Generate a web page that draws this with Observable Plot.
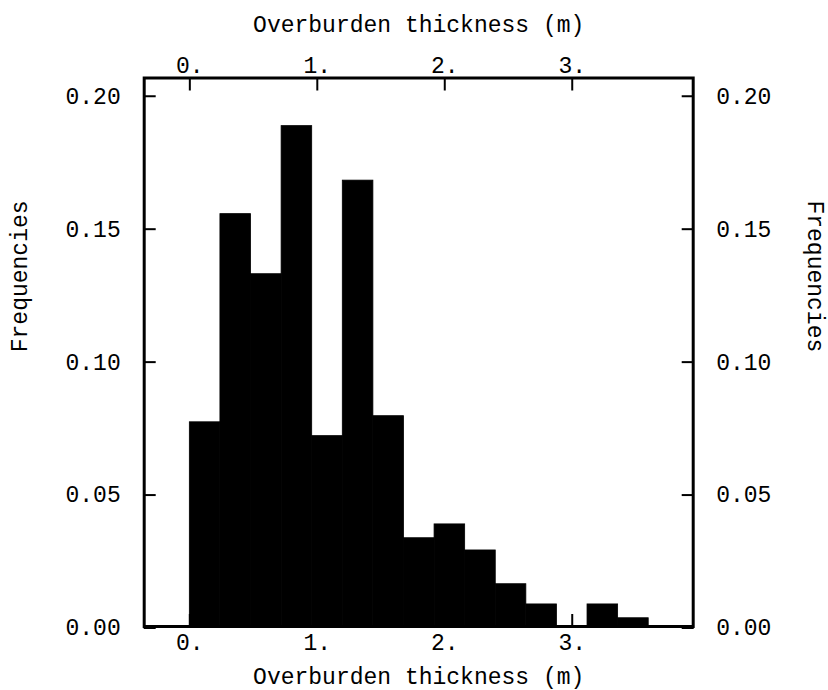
<!DOCTYPE html>
<html><head><meta charset="utf-8">
<script src="https://cdn.jsdelivr.net/npm/d3@7"></script>
<script src="https://cdn.jsdelivr.net/npm/@observablehq/plot@0.6"></script>
<style>body{margin:0;background:#fff}</style>
</head><body><div id="chart"></div>
<script>
const binEdges = [0, 0.24, 0.48, 0.72, 0.96, 1.2, 1.44, 1.68, 1.92, 2.16, 2.4, 2.64, 2.88, 3.12, 3.36, 3.6];
const frequencies = [0.0768, 0.1551, 0.1325, 0.1882, 0.0716, 0.1677, 0.0791, 0.0332, 0.0384, 0.0286, 0.0159, 0.0083, 0, 0.0083, 0.0031];
const xTicks = [0, 1, 2, 3];
const yTicks = [0, 0.05, 0.10, 0.15, 0.20];
const xTitle = "Overburden thickness (m)";
const yTitle = "Frequencies";

const bins = frequencies.map((f, i) => ({x1: binEdges[i], x2: binEdges[i + 1], f}));
const font = "'Liberation Mono', 'Courier New', monospace";
const W = 828, H = 690, mL = 143.7, mR = 828 - 692.7, mT = 77.5, mB = 64;
const TS = -12; // inward ticks

const chart = Plot.plot({
  width: W, height: H,
  marginLeft: mL, marginRight: mR, marginTop: mT, marginBottom: mB,
  x: {domain: [-0.358, 3.949]},
  y: {domain: [0, 0.2063]},
  style: {fontFamily: font, fontSize: "23px", color: "black", background: "white"},
  marks: [
    Plot.rectY(bins, {x1: "x1", x2: "x2", y: "f", fill: "black", stroke: "black", strokeWidth: 0.8}),
    Plot.axisX(xTicks, {anchor: "top", tickSize: TS, tickPadding: 5.5 - TS, strokeWidth: 2, tickFormat: d => d + ".", label: null, fontSize: 23}),
    Plot.axisX(xTicks, {anchor: "bottom", tickSize: TS, tickPadding: 6.7 - TS, strokeWidth: 2, tickFormat: d => d + ".", label: null, fontSize: 23}),
    Plot.axisY(yTicks, {anchor: "left", tickSize: TS, tickPadding: 23.5 - TS, strokeWidth: 2, tickFormat: d3.format(".2f"), label: null, fontSize: 23, dy: 1.5}),
    Plot.axisY(yTicks, {anchor: "right", tickSize: TS, tickPadding: 23 - TS, strokeWidth: 2, tickFormat: d3.format(".2f"), label: null, fontSize: 23, dy: 1.5}),
    Plot.frame({strokeWidth: 3}),
    Plot.text([xTitle], {frameAnchor: "top", dy: -(mT - 31), lineAnchor: "bottom", fontSize: 23}),
    Plot.text([xTitle], {frameAnchor: "bottom", dy: 683 - (H - mB), lineAnchor: "bottom", fontSize: 23}),
    Plot.text([yTitle], {frameAnchor: "left", dx: 19 - mL, rotate: -90, lineAnchor: "middle", fontSize: 23}),
    Plot.text([yTitle], {frameAnchor: "right", dx: 815 - (W - mR), rotate: 90, lineAnchor: "middle", fontSize: 23})
  ]
});
document.getElementById("chart").appendChild(chart);
</script>
</body></html>
